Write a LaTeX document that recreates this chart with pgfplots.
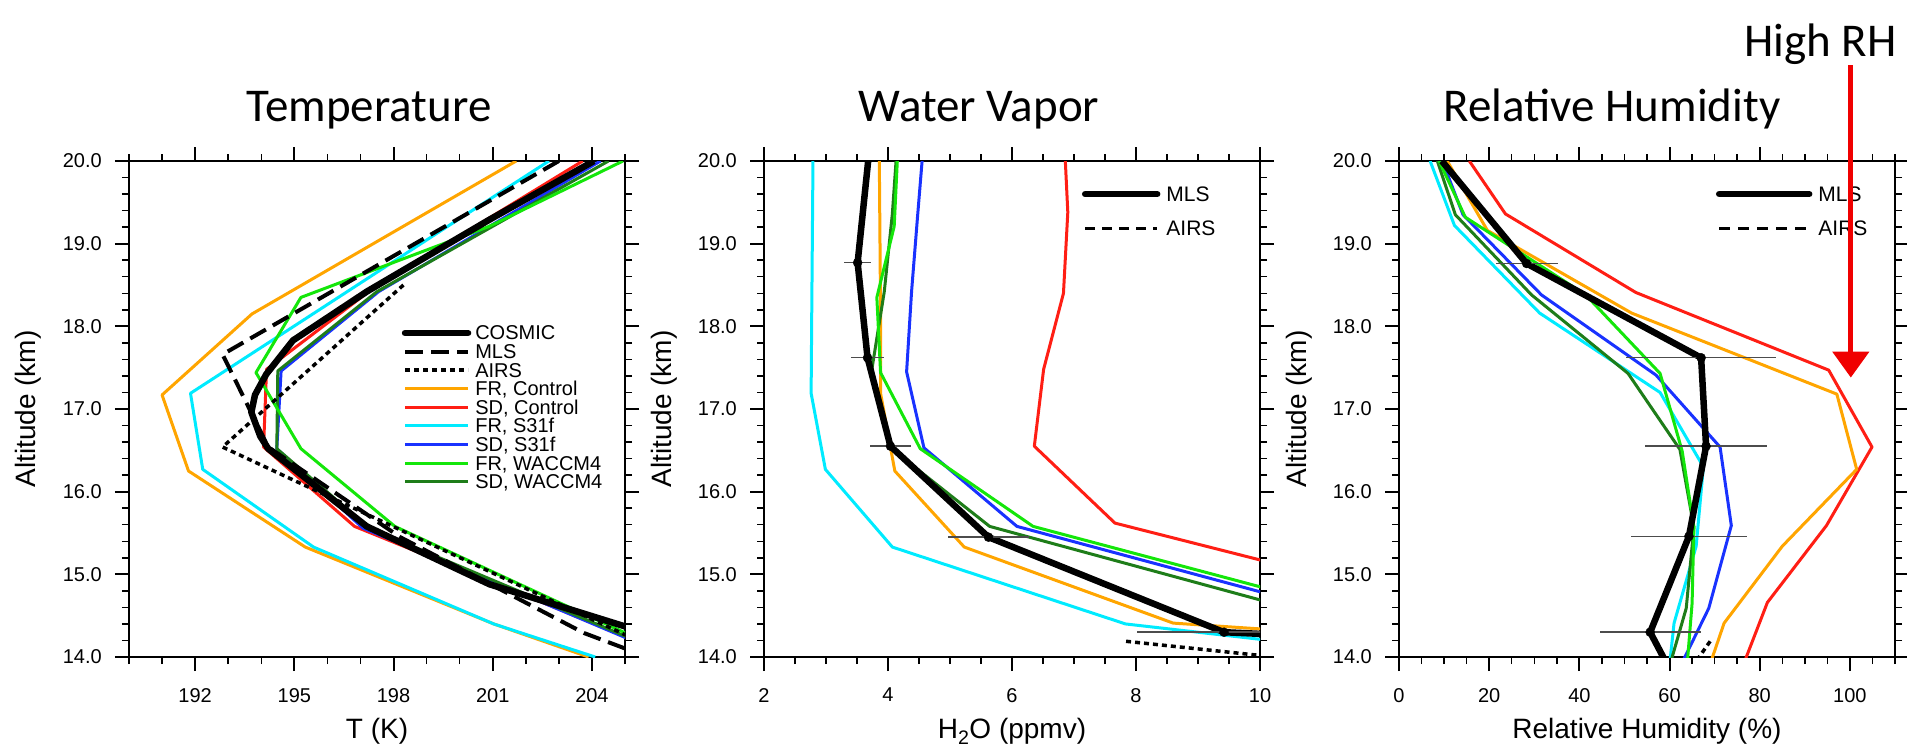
\documentclass[border=0pt]{standalone}
\usepackage{fontspec}
\setmainfont{Liberation Sans}
\newfontfamily\titlefont{Carlito}
\usepackage{pgfplots}
\pgfplotsset{compat=1.18}
\usetikzlibrary{arrows.meta}
\definecolor{cOrange}{RGB}{255,165,0}
\definecolor{cRed}{RGB}{255,30,20}
\definecolor{cCyan}{RGB}{0,235,255}
\definecolor{cBlue}{RGB}{25,50,255}
\definecolor{cGreen}{RGB}{20,230,10}
\definecolor{cDkGreen}{RGB}{30,125,25}
\definecolor{cArrow}{RGB}{240,0,0}
\newcommand{\LL}[1]{\makebox[130pt][l]{#1}}
\newcommand{\LS}[1]{\makebox[60pt][l]{#1}}

\pgfplotsset{
  panel/.style={
    scale only axis, width=496pt, height=496pt,
    ymin=14, ymax=20, ytick={14,15,...,20}, minor y tick num=4,
    xtick pos=both, ytick pos=both,
    tick align=outside,
    major tick length=14pt, minor tick length=7pt,
    major tick style={line width=2pt, black},
    minor tick style={line width=1.5pt, black},
    axis line style={line width=2.5pt},
    /pgf/number format/assume math mode=true,
    tick label style={font=\fontsize{20}{24}\selectfont},
    yticklabel style={/pgf/number format/fixed, /pgf/number format/fixed zerofill, /pgf/number format/precision=1, anchor=east, inner sep=0pt},
    xticklabel style={anchor=north, inner sep=0pt},
    yticklabel shift=13pt,
    xticklabel shift=17pt,
    every axis x label/.style={at={(axis description cs:0.5,-0.1653)}, anchor=base, font=\fontsize{28}{32}\selectfont},
    every axis y label/.style={at={(axis description cs:-0.1875,0.5)}, anchor=base, rotate=90, font=\fontsize{28}{32}\selectfont},
    ylabel={Altitude (km)},
    legend cell align=left,
  },
  model/.style={line width=3pt, line join=round},
}

\begin{document}
\begin{tikzpicture}
\useasboundingbox (0,0) rectangle (1907pt,748pt);

% ---------------- Temperature ----------------
\begin{axis}[panel, at={(129pt,91pt)}, anchor=south west,
  xmin=190, xmax=205, xtick={192,195,198,201,204},
  minor xtick={190,191,193,194,196,197,199,200,202,203,205},
  xlabel={T (K)},
  legend style={at={(0.55,0.672)}, anchor=north west, draw=none, fill=none,
    inner sep=0pt, outer sep=0pt, font=\fontsize{20}{20}\selectfont,
    nodes={inner sep=0pt, text height=16.3pt, text depth=2.3pt, anchor=west},
    cells={anchor=west},
    /tikz/every odd column/.append style={column sep=4pt}},
  legend image code/.code={\draw[#1] (0pt,0pt) -- (63pt,0pt);},
]
\addlegendimage{black, line width=6.5pt, line cap=round}
\addlegendimage{black, line width=4pt, dash pattern=on 18pt off 8pt}
\addlegendimage{black, line width=3.5pt, dash pattern=on 5pt off 4pt}
\addlegendimage{cOrange, line width=3pt}
\addlegendimage{cRed, line width=3pt}
\addlegendimage{cCyan, line width=3pt}
\addlegendimage{cBlue, line width=3pt}
\addlegendimage{cGreen, line width=3pt}
\addlegendimage{cDkGreen, line width=3pt}
\legend{\LL{COSMIC},\LL{MLS},\LL{AIRS},\LL{FR, Control},\LL{SD, Control},\LL{FR, S31f},\LL{SD, S31f},\LL{FR, WACCM4},\LL{SD, WACCM4}}
% FR, Control
\addplot[model, cOrange, forget plot] coordinates {(201.71,20.0) (198.08,19.16) (193.72,18.15) (191.0,17.17) (191.8,16.25) (195.33,15.33) (201.03,14.40) (203.9,14.0)};
% FR, S31f
\addplot[model, cCyan, forget plot] coordinates {(202.7,20.0) (199.6,19.2) (195.6,18.16) (191.86,17.19) (192.23,16.27) (195.58,15.33) (201.03,14.40) (204.1,14.0)};
% SD, Control
\addplot[model, cRed, forget plot] coordinates {(203.72,20.0) (201.1,19.36) (197.25,18.42) (194.16,17.48) (194.07,16.54) (196.82,15.58) (202.5,14.66) (206.5,14.0)};
% SD, S31f
\addplot[model, cBlue, forget plot] coordinates {(204.26,20.0) (197.55,18.42) (194.6,17.46) (194.47,16.52) (197.07,15.56) (202.5,14.66) (206.4,14.0)};
% SD, WACCM4
\addplot[model, cDkGreen, forget plot] coordinates {(204.5,20.0) (197.5,18.42) (194.5,17.46) (194.47,16.52) (197.26,15.56) (202.6,14.66) (206.5,14.0)};
% FR, WACCM4
\addplot[model, cGreen, forget plot] coordinates {(204.94,20.0) (200.9,19.21) (195.2,18.35) (193.84,17.44) (195.2,16.52) (198.04,15.58) (203.0,14.66) (206.6,14.0)};
% AIRS
\addplot[black, line width=3.5pt, dash pattern=on 5pt off 4pt, forget plot] coordinates {(198.3,18.5) (192.83,16.54) (205.43,14.19)};
% MLS
\addplot[black, line width=4pt, dash pattern=on 18pt off 8pt, forget plot] coordinates {(203.0,20.0) (197.65,18.77) (192.83,17.66) (194.21,16.54) (198.2,15.45) (203.76,14.29) (211.0,13.2)};
% COSMIC
\addplot[black, line width=6.5pt, line join=round, forget plot] coordinates {(204.06,20.0) (200.9,19.29) (197.19,18.42) (194.96,17.83) (194.15,17.42) (193.81,17.17) (193.7,16.96) (193.97,16.67) (194.21,16.52) (197.19,15.58) (200.9,14.88) (205.0,14.37) (208.0,14.0)};
\end{axis}

% ---------------- Water vapour ----------------
\begin{axis}[panel, at={(764pt,91pt)}, anchor=south west,
  xmin=2, xmax=10, xtick={2,4,6,8,10},
  minor xtick={2.5,3,3.5,4.5,5,5.5,6.5,7,7.5,8.5,9,9.5},
  xlabel={H\textsubscript{2}O (ppmv)},
  legend style={at={(0.641,0.968)}, anchor=north west, draw=none, fill=none,
    inner sep=0pt, outer sep=0pt, font=\fontsize{21}{21}\selectfont,
    nodes={inner sep=0pt, text height=24.25pt, text depth=10.25pt, anchor=west},
    cells={anchor=west},
    /tikz/every odd column/.append style={column sep=6pt}},
  legend image code/.code={\draw[#1] (0pt,0pt) -- (72pt,0pt);},
]
\addlegendimage{black, line width=6.5pt, line cap=round}
\addlegendimage{black, line width=3.5pt, dash pattern=on 10pt off 7pt}
\legend{\LS{MLS},\LS{AIRS}}
\addplot[model, cCyan, forget plot] coordinates {(2.79,20.0) (2.77,18.16) (2.76,17.19) (2.99,16.27) (4.07,15.33) (7.83,14.40) (12.5,14.0)};
\addplot[model, cOrange, forget plot] coordinates {(3.86,20.0) (3.88,18.16) (3.88,17.19) (4.11,16.25) (5.23,15.33) (8.6,14.41) (26.8,13.5)};
\addplot[model, cRed, forget plot] coordinates {(6.86,20.0) (6.90,19.38) (6.83,18.40) (6.51,17.48) (6.36,16.55) (7.66,15.62) (12.7,14.66)};
\addplot[model, cBlue, forget plot] coordinates {(4.55,20.0) (4.48,19.36) (4.38,18.42) (4.30,17.45) (4.58,16.53) (6.08,15.58) (10.64,14.66)};
\addplot[model, cDkGreen, forget plot] coordinates {(4.13,20.0) (4.07,19.36) (3.94,18.42) (3.74,17.48) (4.02,16.54) (5.64,15.58) (10.15,14.66)};
\addplot[model, cGreen, forget plot] coordinates {(4.15,20.0) (4.10,19.21) (3.82,18.35) (3.88,17.44) (4.52,16.52) (6.34,15.58) (10.95,14.66)};
% AIRS
\addplot[black, line width=3.5pt, dash pattern=on 5pt off 4pt, forget plot] coordinates {(7.84,14.19) (12.0,13.86)};
% MLS
\addplot[black, line width=6.5pt, line join=round, forget plot] coordinates {(3.68,20.0) (3.51,18.77) (3.67,17.62) (4.04,16.55) (5.62,15.45) (9.42,14.30) (41.0,13.2)};
\addplot[only marks, mark=*, mark size=4.5pt, black, forget plot,
  error bars/.cd, x dir=both, x explicit, error mark=none,
  error bar style={line width=1.5pt, black!70}]
  coordinates {(3.51,18.77) +- (0.22,0) (3.67,17.62) +- (0.26,0) (4.04,16.55) +- (0.33,0) (5.62,15.45) +- (0.66,0) (9.42,14.30) +- (1.41,0)};
\end{axis}

% ---------------- Relative humidity ----------------
\begin{axis}[panel, at={(1399pt,91pt)}, anchor=south west,
  xmin=0, xmax=110, xtick={0,20,40,60,80,100},
  minor xtick={5,10,15,25,30,35,45,50,55,65,70,75,85,90,95,105,110},
  xlabel={Relative Humidity (\%)},
  legend style={at={(0.639,0.968)}, anchor=north west, draw=none, fill=none,
    inner sep=0pt, outer sep=0pt, font=\fontsize{21}{21}\selectfont,
    nodes={inner sep=0pt, text height=24.25pt, text depth=10.25pt, anchor=west},
    cells={anchor=west},
    /tikz/every odd column/.append style={column sep=6pt}},
  legend image code/.code={\draw[#1] (0pt,0pt) -- (90pt,0pt);},
]
\addlegendimage{black, line width=6.5pt, line cap=round}
\addlegendimage{black, line width=3.5pt, dash pattern=on 11pt off 8pt}
\legend{\LS{MLS},\LS{AIRS}}
\addplot[model, cRed, forget plot] coordinates {(15.6,20.0) (23.6,19.36) (52.5,18.41) (95.3,17.47) (104.9,16.54) (94.8,15.59) (81.7,14.66) (74.9,13.7)};
\addplot[model, cOrange, forget plot] coordinates {(10.7,20.0) (19.6,19.16) (51.6,18.16) (97.1,17.18) (101.5,16.27) (85.0,15.34) (72.1,14.41) (66.4,13.5)};
\addplot[model, cCyan, forget plot] coordinates {(6.9,20.0) (12.3,19.22) (31.2,18.16) (57.9,17.20) (67.5,16.30) (65.9,15.34) (61.0,14.41) (59.2,13.5)};
\addplot[model, cBlue, forget plot] coordinates {(9.6,20.0) (14.2,19.35) (31.6,18.38) (57.0,17.41) (71.2,16.54) (73.7,15.59) (68.7,14.59) (60.7,13.7)};
\addplot[model, cDkGreen, forget plot] coordinates {(8.5,20.0) (12.5,19.35) (29.4,18.38) (50.8,17.43) (62.3,16.51) (65.4,15.57) (63.7,14.59) (59.0,13.7)};
\addplot[model, cGreen, forget plot] coordinates {(8.9,20.0) (14.7,19.32) (41.4,18.38) (57.9,17.43) (62.8,16.49) (65.4,15.57) (65.0,14.65) (63.6,13.7)};
% AIRS
\addplot[black, line width=3.5pt, dash pattern=on 5pt off 4pt, forget plot] coordinates {(69.0,14.19) (64.0,13.8)};
% MLS
\addplot[black, line width=6.5pt, line join=round, forget plot] coordinates {(9.5,20.0) (28.3,18.76) (67.0,17.62) (68.1,16.55) (64.3,15.46) (55.7,14.30) (66.3,13.2)};
\addplot[only marks, mark=*, mark size=4.5pt, black, forget plot,
  error bars/.cd, x dir=both, x explicit, error mark=none,
  error bar style={line width=1.5pt, black!70}]
  coordinates {(28.3,18.76) +- (6.9,0) (67.0,17.62) +- (16.6,0) (68.1,16.55) +- (13.6,0) (64.3,15.46) +- (12.8,0) (55.7,14.30) +- (11.2,0)};
\coordinate (atop) at (axis cs:100.2,21.16);
\coordinate (abot) at (axis cs:100.2,17.38);
\end{axis}

\draw[cArrow, line width=5pt, -{Triangle[width=36pt,length=26pt]}] (atop) -- (abot);

% titles
\node[anchor=base, font=\titlefont\fontsize{47}{52}\selectfont, inner sep=0pt] at (369pt,626pt) {Temperature};
\node[anchor=base, font=\titlefont\fontsize{47}{52}\selectfont, inner sep=0pt] at (979pt,626pt) {Water Vapor};
\node[anchor=base, font=\titlefont\fontsize{47}{52}\selectfont, inner sep=0pt] at (1612pt,626pt) {Relative Humidity};
\node[anchor=base east, font=\titlefont\fontsize{47}{52}\selectfont, inner sep=0pt] at (1897pt,691pt) {High RH};
\end{tikzpicture}
\end{document}
